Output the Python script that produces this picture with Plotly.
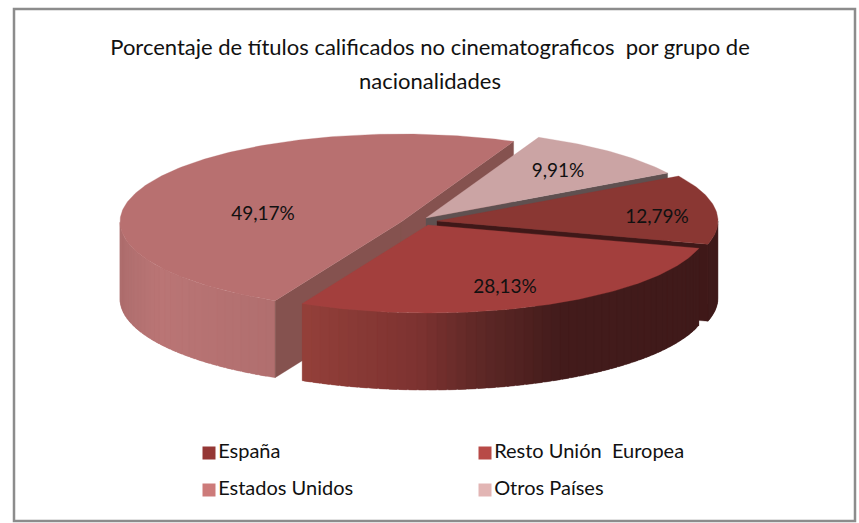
import math
import plotly.graph_objects as go

categories = ["España", "Resto Unión  Europea", "Estados Unidos", "Otros Países"]
values = [12.79, 28.13, 49.17, 9.91]
labels = ["12,79%", "28,13%", "49,17%", "9,91%"]
title_lines = ["Porcentaje de títulos calificados no cinematograficos  por grupo de", "nacionalidades"]

top_colors = ["#8A3733", "#A33F3D", "#B87070", "#CBA4A4"]
legend_colors = ["#953735", "#B84A47", "#CD7B7A", "#E2B5B4"]
radial_colors = ["#3F1818", "#441A1A", "#85524F", "#5F5050"]

# 3D projection settings, in pixels of the 859x523 page
A, B, H = 281, 88, 77
START = 329.3 - 360
APEX = [(437, 221), (428, 225), (401, 222), (426, 218)]
LABEL_POS = [(657, 218), (505, 288), (263, 215), (558, 172)]
LEGEND_POS = [(209, 453), (485, 453), (209, 490), (485, 490)]
WALL_STOPS = [
    [(700, "#3F1A1A"), (720, "#3F1A1A")],
    [(300, "#94403A"), (420, "#7C3230"), (480, "#5E2826"), (560, "#431B1B"), (705, "#3F1A1A")],
    [(116, "#AD6D6D"), (160, "#BA7575"), (280, "#B06E6E")],
    [(0, "#CBA4A4"), (859, "#CBA4A4")],
]


def hex_rgb(c):
    return [int(c[i:i + 2], 16) for i in (1, 3, 5)]


def lerp_color(stops, x):
    if x <= stops[0][0]:
        return stops[0][1]
    for (x0, c0), (x1, c1) in zip(stops, stops[1:]):
        if x <= x1:
            f = (x - x0) / (x1 - x0)
            r = [round(a + (b - a) * f) for a, b in zip(hex_rgb(c0), hex_rgb(c1))]
            return "rgb({},{},{})".format(*r)
    return stops[-1][1]


def pt(apex, t, dz=0):
    r = math.radians(t)
    return apex[0] + A * math.cos(r), apex[1] + B * math.sin(r) + dz


def poly(fig, pts, color, lw=0.3):
    xs = [p[0] for p in pts] + [pts[0][0]]
    ys = [p[1] for p in pts] + [pts[0][1]]
    fig.add_trace(go.Scatter(x=xs, y=ys, mode="lines", fill="toself", fillcolor=color,
                             line=dict(color=color, width=lw), hoverinfo="skip", showlegend=False))


total = sum(values)
spans = []
a0 = START
for v in values:
    a1 = a0 + v / total * 360
    spans.append((a0, a1))
    a0 = a1


def outer_wall(fig, i):
    t0, t1 = spans[i]
    ap = APEX[i]
    lo, hi = max(t0, 0), min(t1, 180)
    if hi <= lo:
        return
    n = max(2, int((hi - lo) / 2))
    step = (hi - lo) / n
    for k in range(n):
        s0 = lo + step * k
        # each strip overlaps the next so that no seam shows
        s1 = min(hi, s0 + step * 1.8)
        col = lerp_color(WALL_STOPS[i], pt(ap, s0 + step / 2)[0])
        poly(fig, [pt(ap, s0), pt(ap, s1), pt(ap, s1, H), pt(ap, s0, H)], col)


def top(fig, i):
    t0, t1 = spans[i]
    ap = APEX[i]
    n = max(8, int((t1 - t0)))
    pts = [ap] + [pt(ap, t0 + (t1 - t0) * k / n) for k in range(n + 1)]
    poly(fig, pts, top_colors[i], 0.3)


def radial(fig, i, t):
    ap = APEX[i]
    poly(fig, [ap, pt(ap, t), pt(ap, t, H), (ap[0], ap[1] + H)], radial_colors[i], 0.3)


fig = go.Figure()

# back to front: Estados Unidos, Otros Países, España, Resto Unión Europea
outer_wall(fig, 2)
radial(fig, 2, spans[2][0])
radial(fig, 2, spans[2][1])
radial(fig, 3, spans[3][1])
top(fig, 2)
outer_wall(fig, 0)
radial(fig, 0, spans[0][1])
top(fig, 3)
top(fig, 0)
outer_wall(fig, 1)
top(fig, 1)

# data labels
fig.add_trace(go.Scatter(
    x=[p[0] for p in LABEL_POS], y=[p[1] for p in LABEL_POS], text=labels, mode="text",
    textposition="middle center", textfont=dict(family="Lato", size=19, color="#111111"),
    hoverinfo="skip", showlegend=False))

# legend keys drawn as square markers with text
for name, color, (x, y) in zip(categories, legend_colors, LEGEND_POS):
    fig.add_trace(go.Scatter(
        x=[x], y=[y], mode="markers+text", name=name, text=[name],
        textposition="middle right", textfont=dict(family="Lato", size=20, color="#111111"),
        marker=dict(symbol="square", size=13, color=color), hoverinfo="skip", showlegend=False))

title_text = "<br>".join('<span style="font-size:22px">' + t + "</span>" for t in title_lines)

fig.update_layout(
    width=859, height=523, autosize=False,
    margin=dict(l=0, r=0, t=0, b=0),
    paper_bgcolor="white", plot_bgcolor="white",
    showlegend=False,
    title=dict(text=title_text, x=430 / 859, xanchor="center", y=1 - 55 / 523, yanchor="top",
               font=dict(family="Lato", size=26.5, color="#111111")),
    xaxis=dict(range=[0, 859], visible=False, fixedrange=True),
    yaxis=dict(range=[523, 0], visible=False, fixedrange=True),
    shapes=[dict(type="rect", xref="paper", yref="paper",
                 x0=14 / 859, x1=855 / 859, y0=1 - 521 / 523, y1=1 - 9 / 523,
                 line=dict(color="#8C8C8C", width=2.5), layer="below")],
)

fig.write_html("out.html", config={"displayModeBar": False},
               post_script="document.body.style.margin='0';document.body.style.overflow='hidden';")
